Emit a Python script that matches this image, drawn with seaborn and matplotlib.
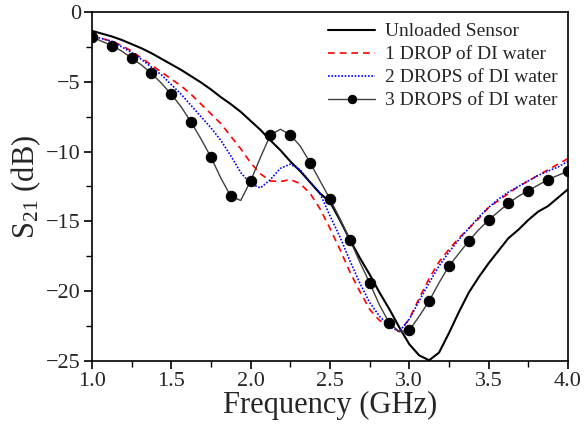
import numpy as np
import matplotlib
matplotlib.use("Agg")
import matplotlib.pyplot as plt
import seaborn as sns
from matplotlib.ticker import MultipleLocator

# frecuencia (GHz), paso de 0.0625
freq = np.linspace(1.0, 4.0, 49)

unloaded = [-1.35, -1.55, -1.75, -2.0, -2.3, -2.6, -2.95, -3.35, -3.75, -4.15,
            -4.6, -5.05, -5.55, -6.1, -6.6, -7.15, -7.8, -8.45, -9.2, -9.9,
            -10.7, -11.4, -12.2, -13.0, -13.6, -14.9, -16.3, -17.6, -18.8, -20.1,
            -21.3, -22.6, -23.8, -24.6, -24.95, -24.4, -23.0, -21.5, -20.1, -19.0,
            -18.0, -17.1, -16.2, -15.6, -14.9, -14.3, -13.9, -13.3, -12.7]

drop1 = [-1.7, -1.9, -2.1, -2.4, -2.8, -3.3, -3.8, -4.3, -4.8, -5.3,
         -5.9, -6.6, -7.3, -8.0, -8.9, -9.8, -10.8, -11.6, -12.1, -12.15,
         -12.0, -12.3, -13.0, -14.1, -15.5, -17.0, -18.6, -20.0, -21.3, -22.1,
         -22.5, -22.9, -22.0, -20.5, -19.1, -17.9, -17.0, -16.2, -15.5, -14.8,
         -14.0, -13.5, -13.0, -12.5, -12.1, -11.7, -11.3, -10.9, -10.5]

drop2 = [-1.75, -1.9, -2.1, -2.5, -2.9, -3.4, -3.95, -4.5, -5.2, -5.9,
         -6.7, -7.5, -8.3, -9.2, -10.3, -11.5, -12.3, -12.6, -12.0, -11.2,
         -10.9, -11.3, -12.2, -13.0, -14.6, -16.1, -17.8, -19.4, -20.8, -21.8,
         -22.5, -22.9, -22.0, -20.7, -19.4, -18.2, -17.2, -16.3, -15.5, -14.7,
         -14.0, -13.4, -12.9, -12.5, -12.1, -11.7, -11.4, -11.1, -10.7]

drop3 = [-1.8, -2.1, -2.4, -2.8, -3.3, -3.8, -4.4, -5.1, -5.9, -6.8,
         -7.9, -9.1, -10.4, -11.9, -13.2, -13.5, -12.1, -10.4, -8.8, -8.4,
         -8.8, -9.6, -10.8, -12.1, -13.4, -14.8, -16.3, -17.9, -19.4, -21.0,
         -22.3, -22.9, -22.8, -21.8, -20.7, -19.4, -18.2, -17.3, -16.4, -15.6,
         -14.9, -14.3, -13.7, -13.2, -12.8, -12.4, -12.0, -11.7, -11.4]

labels = ["Unloaded Sensor", "1 DROP of DI water",
          "2 DROPS of DI water", "3 DROPS of DI water"]

sns.set_style("ticks")
plt.rcParams["font.family"] = ["Liberation Serif", "DejaVu Serif"]
plt.rcParams["mathtext.fontset"] = "stix"

fig = plt.figure(figsize=(5.84, 4.32), dpi=100)
ax = fig.add_axes([0.1575, 0.1644, 0.815, 0.8078])

sns.lineplot(x=freq, y=unloaded, color="black", linewidth=1.5, label=labels[0], ax=ax)
sns.lineplot(x=freq, y=drop1, color="red", linewidth=1.2, linestyle=(0, (4, 3)),
             label=labels[1], ax=ax)
sns.lineplot(x=freq, y=drop2, color="blue", linewidth=1.2, linestyle=(0, (1, 1)),
             label=labels[2], ax=ax)
sns.lineplot(x=freq, y=drop3, color="#404040", linewidth=1.0, marker="o",
             markersize=7.5, markerfacecolor="black", markeredgecolor="black",
             markevery=2, label=labels[3], ax=ax)

ax.set_xlim(1.0, 4.0)
ax.set_ylim(-25, 0)
ax.xaxis.set_major_locator(MultipleLocator(0.5))
ax.xaxis.set_minor_locator(MultipleLocator(0.25))
ax.yaxis.set_major_locator(MultipleLocator(5))
ax.yaxis.set_minor_locator(MultipleLocator(2.5))
ax.xaxis.set_major_formatter(matplotlib.ticker.FormatStrFormatter("%.1f"))
ax.tick_params(which="major", direction="out", length=6, width=1.2,
               labelsize=16, color="black", pad=2)
ax.tick_params(which="minor", direction="out", length=4, width=1.0, color="black")
for s in ax.spines.values():
    s.set_visible(True)
    s.set_color("black")
    s.set_linewidth(1.2)

ax.set_xlabel("Frequency (GHz)", fontsize=22, labelpad=0)
ax.set_ylabel(r"S$_{\mathregular{21}}$ (dB)", fontsize=22, labelpad=2)

leg = ax.legend(loc="upper right", frameon=False, fontsize=14, handlelength=2.4,
                handletextpad=0.5, labelspacing=0.28, borderaxespad=0.15)
leg.legend_handles[3].set_markersize(6)

fig.savefig("out.png", dpi=100)
